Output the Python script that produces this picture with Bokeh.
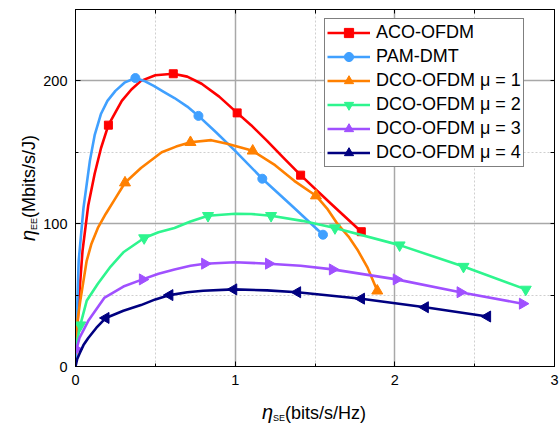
import math
from bokeh.plotting import figure
from bokeh.models import (FixedTicker, LinearAxis, Legend, LegendItem, Range1d, Div)
from bokeh.layouts import row, column
from bokeh.embed import file_html
from bokeh.resources import INLINE

# ---------------- data ----------------
# ACO-OFDM
aco_x = [0.0, 0.005, 0.02, 0.044, 0.08, 0.12, 0.16, 0.206, 0.25, 0.29, 0.35, 0.41, 0.5, 0.6125, 0.7, 0.79, 0.9,
         1.0125, 1.1, 1.2, 1.3, 1.41, 1.6, 1.79]
aco_y = [0, 10, 45, 81, 113, 135, 153, 169, 178, 186, 194, 200, 204, 205, 203, 198, 189,
         177.6, 169, 158, 146.5, 134, 114, 94.4]
aco_mx = [0.206, 0.6125, 1.0125, 1.41, 1.79]
aco_my = [169, 205, 177.6, 134, 94.4]

# PAM-DMT
pam_x = [0.0, 0.003, 0.01, 0.02, 0.05, 0.09, 0.12, 0.16, 0.2, 0.25, 0.31, 0.375, 0.43, 0.49, 0.55, 0.62, 0.7,
         0.77, 0.88, 1.0, 1.17, 1.36, 1.55]
pam_y = [0, 10, 40, 74, 111, 144, 162, 177, 186, 193, 199, 202, 200, 196.5, 192.5, 188, 182,
         175.5, 164, 151, 131.5, 112, 92.3]
pam_mx = [0.375, 0.77, 1.17, 1.55]
pam_my = [202, 175.5, 131.5, 92.3]

# DCO-OFDM mu = 1
d1_x = [0.0, 0.006, 0.03, 0.07, 0.1, 0.14, 0.19, 0.24, 0.31, 0.41, 0.54, 0.63, 0.72, 0.85, 0.95, 1.11, 1.25,
        1.37, 1.506, 1.58, 1.64, 1.71, 1.77, 1.83, 1.89]
d1_y = [10, 27, 46, 74, 86, 97, 107, 116, 128.7, 139, 150, 154, 157, 158.5, 156, 151, 141,
        130, 119.6, 110, 100, 91, 81, 69, 53]
d1_mx = [0.31, 0.72, 1.11, 1.506, 1.89]
d1_my = [128.7, 157, 151, 119.6, 53]

# DCO-OFDM mu = 2
d2_x = [0.0, 0.03, 0.07, 0.14, 0.22, 0.3, 0.43, 0.52, 0.62, 0.72, 0.83, 1.0, 1.1, 1.225, 1.42, 1.625, 2.03,
        2.43, 2.82]
d2_y = [12, 29, 46, 58, 70, 80, 90, 94, 97, 101.5, 105.6, 107, 106.8, 105.6, 102, 97, 85, 70, 54]
d2_mx = [0.03, 0.43, 0.83, 1.225, 1.625, 2.03, 2.43, 2.82]
d2_my = [29, 90, 105.6, 105.6, 97, 85, 70, 54]

# DCO-OFDM mu = 3
d3_x = [0.0, 0.006, 0.025, 0.08, 0.18, 0.3, 0.42, 0.52, 0.62, 0.72, 0.81, 1.0, 1.21, 1.41, 1.61, 2.01, 2.41, 2.8]
d3_y = [11, 12, 20, 32, 48, 56, 61, 65, 68, 70.5, 72, 73, 72, 70.5, 68, 61, 52, 44]
d3_mx = [0.006, 0.42, 0.81, 1.21, 1.61, 2.01, 2.41, 2.8]
d3_my = [12, 61, 72, 72, 68, 61, 52, 44]

# DCO-OFDM mu = 4
d4_x = [0.0, 0.01, 0.025, 0.05, 0.08, 0.13, 0.19, 0.3, 0.41, 0.5, 0.59, 0.7, 0.8, 0.99, 1.2, 1.39, 1.79, 2.19, 2.58]
d4_y = [0, 5, 9, 15, 20, 27, 34, 39, 43, 47, 50, 52, 53, 54, 53.3, 52, 47.5, 41.5, 35]
d4_mx = [0.19, 0.59, 0.99, 1.39, 1.79, 2.19, 2.58]
d4_my = [34, 50, 54, 52, 47.5, 41.5, 35]

names = ["ACO-OFDM", "PAM-DMT", "DCO-OFDM μ = 1", "DCO-OFDM μ = 2", "DCO-OFDM μ = 3", "DCO-OFDM μ = 4"]
x_ticks = [0, 1, 2, 3]
x_minor = [0.5, 1.5, 2.5]
y_ticks = [0, 100, 200]
y_minor = [50, 150, 250]

# ---------------- styling ----------------
colors = ["#FF0000", "#40A0FF", "#FF8000", "#2EF58E", "#A050FF", "#000080"]
markers = ["square", "circle", "triangle", "inverted_triangle", "triangle", "triangle"]
angles = [0, 0, 0, 0, -90, 90]
msizes = [8, 9, 11, 11, 11, 11]
FONT = "Liberation Sans"

p = figure(width=519, height=392, output_backend="svg", toolbar_location=None,
           x_range=Range1d(0, 3), y_range=Range1d(0, 250),
           min_border_left=34, min_border_right=5, min_border_top=9, min_border_bottom=26)
p.background_fill_color = "white"
p.border_fill_color = "white"
p.outline_line_color = "black"
p.outline_line_width = 1

for ax in p.xaxis:
    ax.ticker = FixedTicker(ticks=x_ticks, minor_ticks=x_minor)
for ax in p.yaxis:
    ax.ticker = FixedTicker(ticks=y_ticks, minor_ticks=y_minor)

for ax in list(p.xaxis) + list(p.yaxis):
    ax.major_tick_in = 5
    ax.major_tick_out = 0
    ax.minor_tick_in = 3
    ax.minor_tick_out = 0
    ax.axis_line_color = "black"
    ax.major_tick_line_color = "black"
    ax.minor_tick_line_color = "black"
    ax.major_label_text_font = FONT
    ax.major_label_text_font_size = "14.5px"
    ax.major_label_text_color = "black"
    ax.major_label_standoff = 8

# top/right axes: inward ticks only, no labels
top = LinearAxis(ticker=FixedTicker(ticks=[], minor_ticks=sorted(x_ticks + x_minor)))
right = LinearAxis(ticker=FixedTicker(ticks=[], minor_ticks=sorted(y_ticks + y_minor)))
for ax in (top, right):
    ax.minor_tick_in = 4
    ax.minor_tick_out = 0
    ax.major_tick_in = 0
    ax.major_tick_out = 0
    ax.major_label_standoff = 0
    ax.axis_line_color = "black"
    ax.minor_tick_line_color = "black"
p.add_layout(top, "above")
p.add_layout(right, "right")

for g in (p.xgrid, p.ygrid):
    g.grid_line_color = "#A8A8A8"
    g.grid_line_width = 1.5
    g.minor_grid_line_color = "#CFCFCF"
    g.minor_grid_line_width = 1
    g.minor_grid_line_dash = "2 2"

series = [
    (aco_x, aco_y, aco_mx, aco_my),
    (pam_x, pam_y, pam_mx, pam_my),
    (d1_x, d1_y, d1_mx, d1_my),
    (d2_x, d2_y, d2_mx, d2_my),
    (d3_x, d3_y, d3_mx, d3_my),
    (d4_x, d4_y, d4_mx, d4_my),
]

items = []
for i, (cx, cy, mx, my) in enumerate(series):
    lr = p.line(cx, cy, line_color=colors[i], line_width=2.6, line_join="round")
    sr = p.scatter(mx, my, marker=markers[i], size=msizes[i], angle=angles[i], angle_units="deg",
                   fill_color=colors[i], line_color=colors[i])
    items.append(LegendItem(label=names[i], renderers=[lr, sr]))

legend = Legend(items=items, location=(249, 199))
legend.label_text_font = FONT
legend.label_text_font_size = "18px"
legend.label_text_color = "black"
legend.glyph_width = 43
legend.glyph_height = 23
legend.label_height = 23
legend.label_standoff = 6
legend.spacing = 1
legend.padding = 2
legend.margin = 0
legend.border_line_color = "black"
legend.border_line_width = 1
legend.background_fill_color = "white"
legend.background_fill_alpha = 1
p.add_layout(legend, "center")

# axis titles as real HTML text (italic eta + subscript)
base = "font-family:'Liberation Sans',Arial,sans-serif;color:black;white-space:nowrap;line-height:18px;font-size:18px;"
ytxt = ('<div style="position:relative;width:40px;height:392px;">'
        '<div style="position:absolute;left:31px;top:188px;transform:translate(-50%,-50%) rotate(-90deg);' + base + '">'
        '<i style="font-size:20px;">η</i><span style="font-size:9px;vertical-align:-2px;">EE</span>(Mbits/s/J)'
        '</div></div>')
xtxt = ('<div style="position:relative;width:519px;height:32px;overflow:visible;">'
        '<div style="position:absolute;left:274px;top:11px;transform:translateX(-50%);' + base + '">'
        '<i style="font-size:20px;">η</i><span style="font-size:9px;vertical-align:-2px;">SE</span>(bits/s/Hz)'
        '</div></div>')
ydiv = Div(text=ytxt, width=40, height=392, margin=0)
xdiv = Div(text=xtxt, width=519, height=32, margin=0)

layout = row(ydiv, column(p, xdiv, spacing=0), spacing=0)

open("out.html", "w").write(file_html(layout, INLINE))
